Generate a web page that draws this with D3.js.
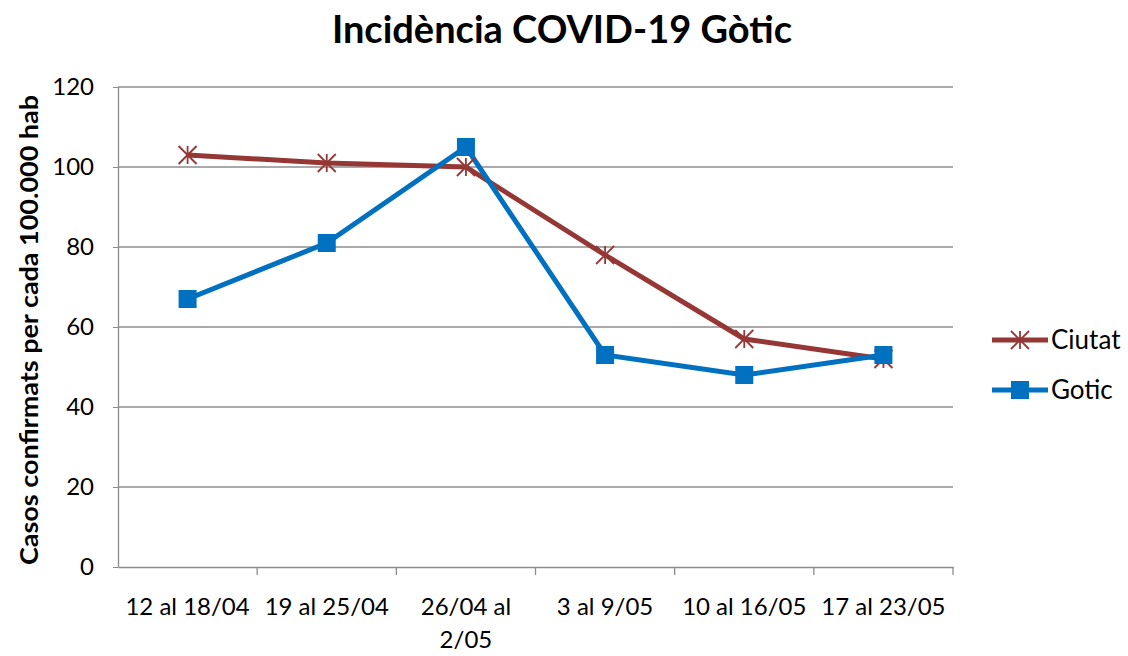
<!DOCTYPE html>
<html>
<head>
<meta charset="utf-8">
<script src="https://cdn.jsdelivr.net/npm/d3@7"></script>
<style>
  body { margin: 0; background: #fff; }
  text { font-family: Lato, "Open Sans", sans-serif; }
</style>
</head>
<body>
<div id="chart"></div>
<script>
var categories = ["12 al 18/04", "19 al 25/04", "26/04 al 2/05", "3 al 9/05", "10 al 16/05", "17 al 23/05"];
var ciutat = [103, 101, 100, 78, 57, 52];
var gotic = [67, 81, 105, 53, 48, 53];
var yTicks = [0, 20, 40, 60, 80, 100, 120];

var width = 1128,
    height = 656,
    margin = {top: 87, right: 175, bottom: 89, left: 118};

var svg = d3.select("#chart").append("svg")
  .attr("width", width)
  .attr("height", height);

var innerW = width - margin.left - margin.right,
    innerH = height - margin.top - margin.bottom;

var g = svg.append("g").attr("transform", `translate(${margin.left},${margin.top})`);

var x = d3.scaleBand().domain(categories).range([0, innerW]);
var y = d3.scaleLinear().domain([0, 120]).range([innerH, 0]);

// gridlines
g.selectAll(".grid")
  .data(yTicks.filter(d => d > 0))
  .enter().append("line")
  .attr("x1", 0).attr("x2", innerW)
  .attr("y1", d => y(d)).attr("y2", d => y(d))
  .attr("stroke", "#8c8c8c").attr("stroke-width", 1.3);

// y axis
var yAxis = g.append("g")
  .call(d3.axisLeft(y).tickValues(yTicks).tickSize(5).tickSizeOuter(0).tickPadding(19));
yAxis.select(".domain").attr("stroke", "#8c8c8c").attr("stroke-width", 1.3);
yAxis.selectAll(".tick line").attr("stroke", "#8c8c8c");
yAxis.selectAll(".tick text").attr("font-size", 24).attr("fill", "#000")
  .attr("font-family", "Lato, sans-serif");

// x axis
var xAxis = g.append("g").attr("transform", `translate(0,${innerH})`)
  .call(d3.axisBottom(x).tickSize(0).tickSizeOuter(0));
xAxis.select(".domain").attr("stroke", "#8c8c8c").attr("stroke-width", 1.3);
xAxis.selectAll(".tick text").remove();
// category boundary ticks
g.selectAll(".xtick")
  .data(categories)
  .enter().append("line")
  .attr("x1", d => x(d) + x.bandwidth()).attr("x2", d => x(d) + x.bandwidth())
  .attr("y1", innerH).attr("y2", innerH + 8)
  .attr("stroke", "#8c8c8c").attr("stroke-width", 1.3);

// x labels, wrapped like the original
var xLabelLines = [["12 al 18/04"], ["19 al 25/04"], ["26/04 al", "2/05"], ["3 al 9/05"], ["10 al 16/05"], ["17 al 23/05"]];
categories.forEach(function(c, i) {
  var t = g.append("text")
    .attr("x", x(c) + x.bandwidth() / 2)
    .attr("y", innerH + 48)
    .attr("text-anchor", "middle")
    .attr("font-size", 24)
    .attr("fill", "#000");
  xLabelLines[i].forEach(function(l, j) {
    t.append("tspan").attr("x", x(c) + x.bandwidth() / 2).attr("dy", j == 0 ? 0 : 33).text(l);
  });
});

var line = d3.line()
  .x((d, i) => x(categories[i]) + x.bandwidth() / 2)
  .y(d => y(d));

var red = "#953735", blue = "#0070c0";

g.append("path").datum(ciutat)
  .attr("d", line).attr("fill", "none")
  .attr("stroke", red).attr("stroke-width", 5);

g.append("path").datum(gotic)
  .attr("d", line).attr("fill", "none")
  .attr("stroke", blue).attr("stroke-width", 5);

function star(sel, cx, cy, r) {
  var gg = sel.append("g").attr("transform", `translate(${cx},${cy})`)
    .attr("stroke", red).attr("stroke-width", 1.8);
  gg.append("line").attr("x1", 0).attr("x2", 0).attr("y1", -r).attr("y2", r);
  gg.append("line").attr("x1", -r).attr("x2", r).attr("y1", -r).attr("y2", r);
  gg.append("line").attr("x1", -r).attr("x2", r).attr("y1", r).attr("y2", -r);
}

ciutat.forEach(function(d, i) {
  star(g, x(categories[i]) + x.bandwidth() / 2, y(d), 9);
});

g.selectAll(".sq")
  .data(gotic)
  .enter().append("rect")
  .attr("x", (d, i) => x(categories[i]) + x.bandwidth() / 2 - 9)
  .attr("y", d => y(d) - 9)
  .attr("width", 18).attr("height", 18)
  .attr("fill", blue);

// title
svg.append("text")
  .attr("x", 562).attr("y", 43)
  .attr("text-anchor", "middle")
  .attr("font-size", 38).attr("font-weight", "bold")
  .text("Incidència COVID-19 Gòtic");

// y axis title
svg.append("text")
  .attr("transform", `translate(38,${margin.top + innerH / 2 + 3}) rotate(-90)`)
  .attr("text-anchor", "middle")
  .attr("font-size", 25).attr("font-weight", "bold")
  .attr("textLength", 470).attr("lengthAdjust", "spacingAndGlyphs")
  .text("Casos confirmats per cada 100.000 hab");

// legend
var legend = svg.append("g").attr("transform", "translate(992,340)");
legend.append("line").attr("x1", 0).attr("x2", 56).attr("y1", 0).attr("y2", 0)
  .attr("stroke", red).attr("stroke-width", 5);
star(legend, 28, 0, 9);
legend.append("text").attr("x", 59).attr("y", 9).attr("font-size", 26).text("Ciutat");

legend.append("line").attr("x1", 0).attr("x2", 56).attr("y1", 50).attr("y2", 50)
  .attr("stroke", blue).attr("stroke-width", 5);
legend.append("rect").attr("x", 19).attr("y", 41).attr("width", 18).attr("height", 18).attr("fill", blue);
legend.append("text").attr("x", 59).attr("y", 59).attr("font-size", 26).text("Gotic");
</script>
</body>
</html>
